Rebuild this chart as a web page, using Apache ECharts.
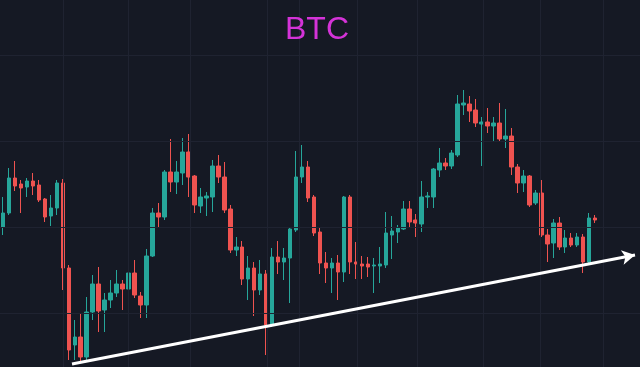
<!DOCTYPE html>
<html><head><meta charset="utf-8">
<script src="https://cdn.jsdelivr.net/npm/echarts@6/dist/echarts.min.js"></script>
<style>html,body{margin:0;padding:0;background:#151924;}#c{width:640px;height:367px;}</style>
</head><body><div id="c"></div>
<script>
// 100 candles plus empty future slots on the right
const slotCount = 107;
const categories = Array.from({length: slotCount}, (_, i) => 'D' + (i + 1));
const opens  = [140,154,189,183,180,186,182,168,151,159,184,99,22,30,10,55,83,57,67,74,83,78,94,71,62,111,154,150,195,185,194,215,191,161,169,170,201,190,158,117,120,88,99,77,93,43,110,105,109,137,190,200,170,135,104,99,104,95,170,105,103,103,101,101,102,132,135,138,158,147,143,170,170,197,204,201,212,262,263,257,243,245,241,244,228,231,200,184,191,164,174,132,124,144,120,129,122,130,105,149];
const closes = [154,189,181,179,186,181,167,150,159,184,99,17,30,10,55,83,56,67,74,83,78,94,72,62,111,154,150,195,185,195,215,190,162,170,171,201,190,157,117,120,88,99,77,93,42,110,105,109,138,190,200,169,134,104,99,104,95,170,105,103,101,100,102,103,134,136,139,158,145,144,170,171,198,204,201,214,263,264,256,244,245,241,244,228,231,200,184,191,162,174,132,123,144,120,129,122,130,105,149,147];
const lows   = [132,152,176,154,170,172,165,145,141,152,77,7,7,4,5,47,35,35,59,70,57,70,69,49,49,110,140,147,175,173,182,170,154,154,151,155,184,154,114,111,82,67,51,72,12,40,93,87,64,135,184,165,131,93,84,74,67,85,93,88,88,90,74,84,99,108,124,137,140,130,135,159,159,190,197,198,210,252,245,240,201,234,226,225,219,192,174,175,160,162,130,105,109,117,114,120,120,94,104,144];
const highs  = [170,199,206,187,189,194,187,169,172,187,188,102,47,54,70,92,100,74,87,97,87,103,107,75,118,159,164,197,228,206,229,233,192,179,175,207,212,205,162,130,126,111,105,107,97,119,126,119,140,216,222,206,172,139,115,109,112,171,172,125,111,110,109,120,155,151,142,166,166,153,186,175,199,219,209,217,272,277,271,268,250,259,250,264,258,239,203,197,192,177,187,138,148,150,137,134,134,133,154,152];
// trend line drawn on the chart (pixel-x scale, price scale)
const trendX = [72, 635];
const trendY = [3, 112];
// grid line positions
const vGridAt = [63, 128, 190, 267, 299, 357, 417, 483, 540, 603];
const hGridAt = [54, 140, 226, 312];

const candleData = opens.map((o, i) => [o, closes[i], lows[i], highs[i]]);
const chart = echarts.init(document.getElementById('c'), null, {renderer: 'canvas'});
const gridColor = '#1f2331';
chart.setOption({
  backgroundColor: '#151924',
  animation: false,
  title: {
    text: 'BTC', left: 317, top: 14, textAlign: 'center', padding: 0,
    textStyle: {color: '#d433d8', fontSize: 32, fontWeight: 'normal', fontFamily: 'Liberation Sans, Arial, sans-serif'}
  },
  grid: {left: 0, right: 0, top: 0, bottom: 0},
  xAxis: [
    {type: 'category', data: categories, boundaryGap: true, show: false},
    {type: 'value', min: 0, max: 640, show: false}
  ],
  yAxis: [{type: 'value', min: 0, max: 367, show: false}],
  series: [
    {
      type: 'line', xAxisIndex: 1, yAxisIndex: 0, data: [], z: 0, silent: true,
      markLine: {
        silent: true, symbol: ['none', 'none'], label: {show: false},
        lineStyle: {color: gridColor, width: 1, type: 'solid'},
        data: vGridAt.map(v => ({xAxis: v})).concat(hGridAt.map(v => ({yAxis: v})))
      }
    },
    {
      type: 'candlestick', xAxisIndex: 0, yAxisIndex: 0, data: candleData, z: 2, barWidth: 4,
      itemStyle: {color: '#26a69a', color0: '#ef5350', borderColor: '#26a69a', borderColor0: '#ef5350', borderWidth: 1}
    },
    {
      type: 'line', xAxisIndex: 1, yAxisIndex: 0, data: [], z: 5, silent: true,
      markLine: {
        silent: true, symbol: ['none', 'arrow'], symbolSize: [11, 13], label: {show: false},
        lineStyle: {color: '#ffffff', width: 3, type: 'solid', opacity: 1},
        data: [[{coord: [trendX[0], trendY[0]]}, {coord: [trendX[1], trendY[1]]}]]
      }
    }
  ]
});
</script>
</body></html>
